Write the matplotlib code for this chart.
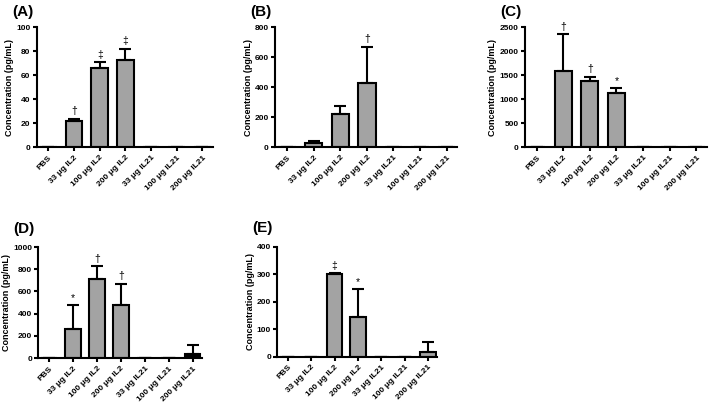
import matplotlib
matplotlib.use('Agg')
import matplotlib.pyplot as plt

plt.rcParams['font.family'] = ['Liberation Sans', 'DejaVu Sans']
plt.rcParams['font.weight'] = 'bold'

groups = ['PBS', '33 \u03bcg IL2', '100 \u03bcg IL2', '200 \u03bcg IL2',
          '33 \u03bcg IL21', '100 \u03bcg IL21', '200 \u03bcg IL21']

# values (mean, upper error, mark)
a_vals = [0, 22, 66, 72.5, 0, 0, 0]
a_err = [0, 1.5, 5, 9.5, 0, 0, 0]
a_marks = ['', '\u2020', '\u2021', '\u2021', '', '', '']

b_vals = [0, 30, 220, 430, 0, 0, 0]
b_err = [0, 12, 55, 240, 0, 0, 0]
b_marks = ['', '', '', '\u2020', '', '', '']

c_vals = [8, 1590, 1380, 1130, 0, 8, 8]
c_err = [0, 760, 90, 100, 0, 0, 0]
c_marks = ['', '\u2020', '\u2020', '*', '', '', '']

d_vals = [0, 260, 710, 475, 0, 0, 40]
d_err = [0, 215, 120, 195, 0, 0, 80]
d_marks = ['', '*', '\u2020', '\u2020', '', '', '']

e_vals = [0, 0, 300, 145, 0, 0, 18]
e_err = [0, 0, 5, 100, 0, 0, 35]
e_marks = ['', '', '\u2021', '*', '', '', '']

fig = plt.figure(figsize=(7.09, 4.05), dpi=100)

panels = [
    ('(A)', a_vals, a_err, a_marks, 100, 20, [0.052, 0.637, 0.248, 0.296], 'gray', 0.038),
    ('(B)', b_vals, b_err, b_marks, 800, 200, [0.388, 0.637, 0.257, 0.296], 'gray', 0.038),
    ('(C)', c_vals, c_err, c_marks, 2500, 500, [0.740, 0.637, 0.257, 0.296], 'gray', 0.038),
    ('(D)', d_vals, d_err, d_marks, 1000, 200, [0.054, 0.116, 0.231, 0.274], 'black', 0.045),
    ('(E)', e_vals, e_err, e_marks, 400, 100, [0.391, 0.119, 0.226, 0.272], 'black', 0.045),
]

for label, vals, err, marks, ymax, step, rect, il21_col, lab_dy in panels:
    ax = fig.add_axes(rect)
    x = list(range(len(groups)))
    colors = ['#a3a3a3'] * 4 + [il21_col if v > 20 else '#a3a3a3' for v in vals[4:]]
    ax.bar(x, vals, width=0.65, color=colors, edgecolor='black', linewidth=1.5,
           yerr=[[0] * len(err), err], capsize=4,
           error_kw=dict(elinewidth=1.5, capthick=1.5, ecolor='black'), zorder=2)
    for xi, v, e, m in zip(x, vals, err, marks):
        if m:
            ax.text(xi, v + e + ymax * 0.02, m, ha='center', va='bottom', fontsize=7.5,
                    fontweight='normal')
    ax.set_xlim(-0.45, 6.4)
    ax.set_ylim(0, ymax)
    ax.set_yticks(range(0, ymax + 1, step))
    ax.set_xticks(x)
    ax.set_xticklabels(groups, rotation=45, ha='right', rotation_mode='anchor', fontsize=6)
    ax.tick_params(axis='y', labelsize=6, width=1.5, length=3, pad=1.5)
    ax.tick_params(axis='x', width=1.5, length=3, pad=2)
    for s in ['top', 'right']:
        ax.spines[s].set_visible(False)
    for s in ['left', 'bottom']:
        ax.spines[s].set_linewidth(1.5)
    ax.set_ylabel('Concentration (pg/mL)', fontsize=6.5, fontweight='bold', labelpad=1.5)
    pos = ax.get_position()
    fig.text(pos.x0 - 0.035, pos.y1 + lab_dy, label, fontsize=11, fontweight='bold',
             ha='left', va='center')

fig.savefig('out.png', dpi=100)
